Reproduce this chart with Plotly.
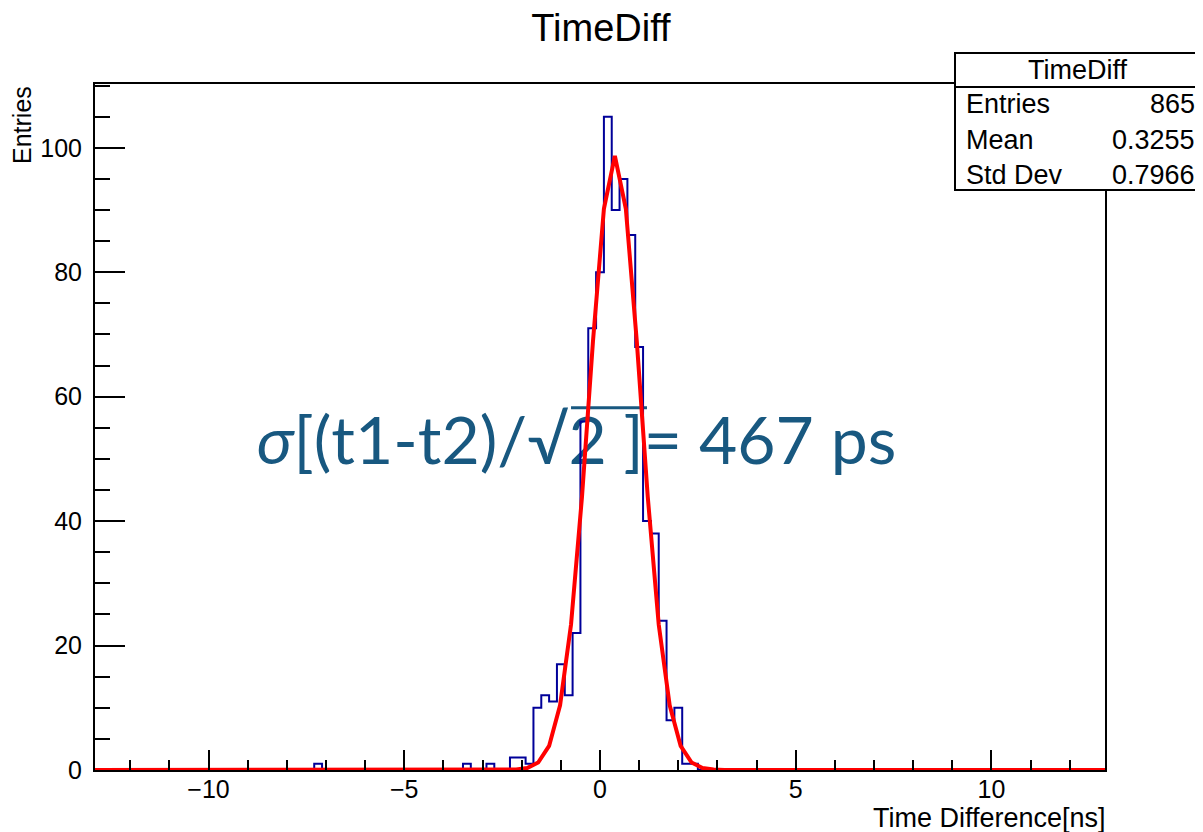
import numpy as np
import plotly.graph_objects as go

# ---------------- data ----------------
hist_title = "TimeDiff"
x_title = "Time Difference[ns]"
y_title = "Entries"

hist_xmin = -12.9
hist_xmax = 12.9
bin_width = 0.2

# non-empty bins (bin centres) and their contents
bin_centers = [-7.2, -3.4, -2.8, -2.2, -2.0, -1.8, -1.6, -1.4, -1.2, -1.0, -0.8, -0.6,
               -0.4, -0.2, 0.0, 0.2, 0.4, 0.6, 0.8, 1.0, 1.2, 1.4, 1.6, 1.8, 2.0, 2.2, 2.4]
bin_counts = [1, 1, 1, 2, 2, 1, 10, 12, 11, 17, 12, 22,
              56, 71, 80, 105, 90, 95, 86, 68, 40, 38, 24, 8, 10, 1, 1]

# gaussian fit parameters (drawn as a polyline like ROOT's TF1)
fit_constant = 98.7
fit_mean = 0.38
fit_sigma = 0.66
fit_step = 0.28

stats_labels = ["Entries", "Mean", "Std Dev"]
stats_values = ["865", "0.3255", "0.7966"]

note_text = "<i>σ</i>[(t1-t2)/√2 ]= 467 ps"

x_tickvals = [-10, -5, 0, 5, 10]
y_tickvals = [0, 20, 40, 60, 80, 100]
y_max = 110.25

# ---------------- build histogram outline ----------------
n_bins = int(round((hist_xmax - hist_xmin) / bin_width))
edges = hist_xmin + bin_width * np.arange(n_bins + 1)
counts = np.zeros(n_bins)
for c, v in zip(bin_centers, bin_counts):
    idx = int(round((c - hist_xmin) / bin_width - 0.5))
    counts[idx] = v
step_y = np.append(counts, counts[-1])

# fit polyline
k_lo = int(np.ceil((hist_xmin - fit_mean) / fit_step))
k_hi = int(np.floor((hist_xmax - fit_mean) / fit_step))
fx = fit_mean + fit_step * np.arange(k_lo, k_hi + 1)
fx = np.concatenate([[hist_xmin], fx, [hist_xmax]])
fy = fit_constant * np.exp(-0.5 * ((fx - fit_mean) / fit_sigma) ** 2)

FONT = "Liberation Sans, Arial, Helvetica, sans-serif"
TEAL = "rgb(24,88,128)"

fig = go.Figure()

# big note drawn first so the histogram lines pass over it
fig.add_trace(go.Scatter(
    x=[-0.60], y=[51.8], mode="text", text=[note_text],
    textposition="middle center",
    textfont=dict(family="Lato, Noto Sans, sans-serif", size=66, color=TEAL),
    hoverinfo="skip", showlegend=False))

fig.add_trace(go.Scatter(
    x=edges, y=step_y, mode="lines", line_shape="hv",
    line=dict(color="rgb(0,0,153)", width=2), showlegend=False))

fig.add_trace(go.Scatter(
    x=fx, y=fy, mode="lines",
    line=dict(color="rgb(255,0,0)", width=4), showlegend=False))

# overline of the square root
fig.add_shape(type="line", xref="x", yref="y", x0=-0.74, x1=1.20, y0=58.2, y1=58.2,
              line=dict(color=TEAL, width=3), layer="between")

axis_common = dict(
    showline=True, linecolor="black", linewidth=2, mirror=True,
    ticks="inside", tickcolor="black", tickwidth=1.5,
    showgrid=False, zeroline=False,
    tickfont=dict(family=FONT, size=25, color="black"),
)

fig.update_xaxes(range=[hist_xmin, hist_xmax], tickvals=x_tickvals, ticklen=20,
                 minor=dict(dtick=1, ticklen=10, ticks="inside", tickcolor="black", tickwidth=1.5),
                 ticklabelstandoff=-4, **axis_common)
fig.update_yaxes(range=[0, y_max], tickvals=y_tickvals, ticklen=30,
                 minor=dict(dtick=5, ticklen=15, ticks="inside", tickcolor="black", tickwidth=1.5),
                 ticklabelstandoff=6, **axis_common)

# the page puts the figure 8 px from the window's top-left corner
OFF = 8
W, H = 1203 - OFF, 832 - OFF
L, T = 95 - OFF, 84 - OFF
pw, ph = 1010, 686
R, B = W - L - pw, H - T - ph


def px(xp):  # window pixel -> paper x
    return (xp - OFF - L) / pw


def py(yp):  # window pixel -> paper y
    return (T + ph - (yp - OFF)) / ph


annotations = [
    dict(text=y_title, x=px(22), y=py(84), xref="paper", yref="paper", textangle=-90,
         xanchor="center", yanchor="top", showarrow=False,
         font=dict(family=FONT, size=25, color="black")),
    dict(text=x_title, x=px(1108), y=py(818), xref="paper", yref="paper",
         xanchor="right", yanchor="middle", showarrow=False,
         font=dict(family=FONT, size=27, color="black")),
]

# stats box
bx0, bx1, by0, bsep, by1 = 955, 1200, 53, 87, 190
fig.add_shape(type="rect", xref="paper", yref="paper", x0=px(bx0), x1=px(bx1), y0=py(by1), y1=py(by0),
              fillcolor="white", line=dict(color="black", width=2), layer="above")
fig.add_shape(type="line", xref="paper", yref="paper", x0=px(bx0), x1=px(bx1), y0=py(bsep), y1=py(bsep),
              line=dict(color="black", width=2), layer="above")
annotations.append(dict(text=hist_title, x=px((bx0 + bx1) / 2), y=py(70), xref="paper", yref="paper",
                        xanchor="center", yanchor="middle", showarrow=False,
                        font=dict(family=FONT, size=27, color="black")))
row_y = [104, 140, 175]
for lab, val, ry in zip(stats_labels, stats_values, row_y):
    annotations.append(dict(text=lab, x=px(964), y=py(ry), xref="paper", yref="paper",
                            xanchor="left", yanchor="middle", showarrow=False,
                            font=dict(family=FONT, size=27, color="black")))
    annotations.append(dict(text=val, x=px(1197), y=py(ry), xref="paper", yref="paper",
                            xanchor="right", yanchor="middle", showarrow=False,
                            font=dict(family=FONT, size=27, color="black")))

fig.update_layout(
    width=W, height=H,
    margin=dict(l=L, r=R, t=T, b=B),
    paper_bgcolor="white", plot_bgcolor="white",
    title=dict(text=hist_title, x=(601 - OFF) / W, xref="container", xanchor="center",
               y=1 - (28 - OFF) / H, yanchor="middle",
               font=dict(family=FONT, size=38, color="black")),
    annotations=annotations,
    showlegend=False,
)

fig.write_html("out.html")
